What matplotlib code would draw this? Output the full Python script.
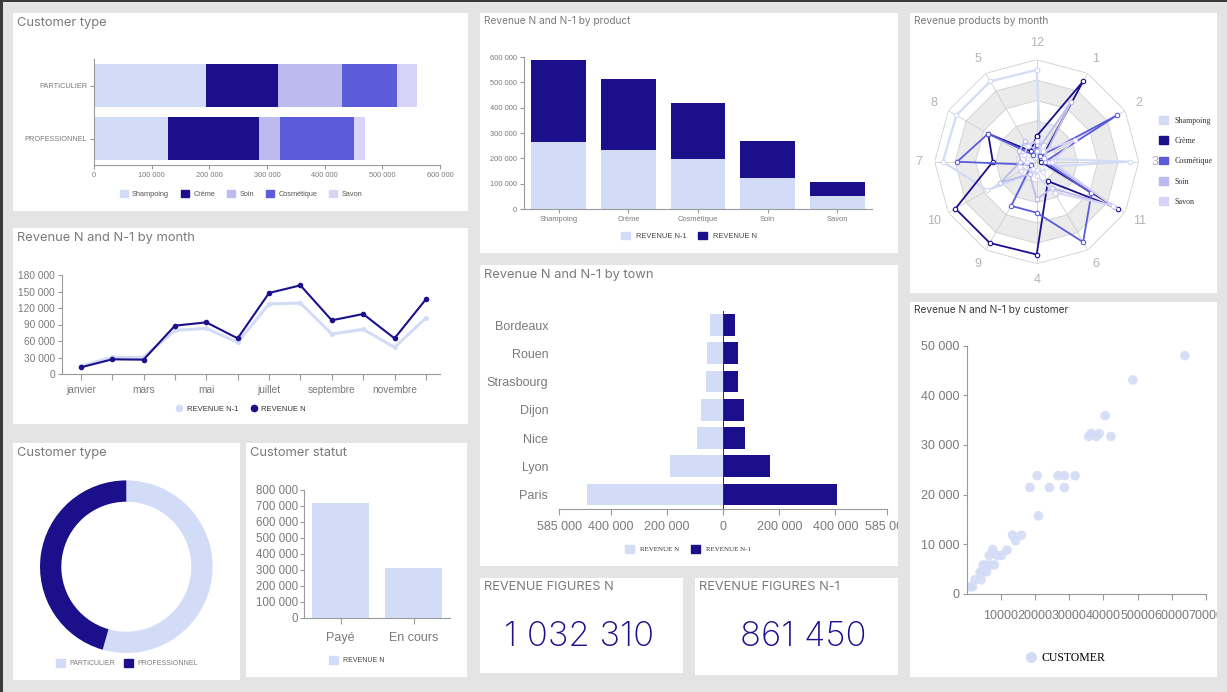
import numpy as np
import matplotlib
matplotlib.use('Agg')
import matplotlib.pyplot as plt
from matplotlib.patches import Rectangle, Patch
from matplotlib.lines import Line2D
from matplotlib.ticker import FuncFormatter
from matplotlib.transforms import Bbox, TransformedBbox

W, H = 1227, 692

LIGHT = '#d3dcf7'
DARK = '#1b0f8b'
SOIN = '#bcbaee'
COSM = '#5c5bd9'
SAVON = '#d7d3f9'
TXT = '#7a7a7a'
AXIS = '#9a9a9a'

# --- data ---
customer_types = ['PARTICULIER', 'PROFESSIONNEL']
products = ['Shampoing', 'Crème', 'Soin', 'Cosmétique', 'Savon']
type_shampoing = [195000, 128400]
type_creme = [124000, 157400]
type_soin = [110500, 36500]
type_cosmetique = [95500, 128400]
type_savon = [35800, 19100]

product_names = ['Shampoing', 'Crème', 'Cosmétique', 'Soin', 'Savon']
product_rev_n1 = [263900, 231000, 195600, 123400, 49900]
product_rev_n = [323000, 283700, 224500, 145700, 56400]

months = ['janvier', 'février', 'mars', 'avril', 'mai', 'juin', 'juillet',
          'août', 'septembre', 'octobre', 'novembre', 'décembre']
month_rev_n1 = [14500, 30300, 30300, 79400, 83000, 57600, 127300, 129100, 72700, 81200, 48500, 101800]
month_rev_n = [12100, 26700, 26100, 87900, 93900, 64800, 147300, 161200, 97600, 109100, 64800, 135800]

radar_axes = ['12', '1', '2', '3', '11', '6', '4', '9', '10', '7', '8', '5']
radar_shampoing = [90, 8, 6, 91, 10, 12, 8, 14, 56, 92, 91, 91]
radar_creme = [25, 91, 5, 4, 92, 22, 91, 92, 92, 43, 55, 12]
radar_cosmetique = [16, 6, 91, 8, 62, 91, 50, 50, 6, 78, 55, 8]
radar_soin = [10, 68, 8, 12, 88, 30, 37, 14, 41, 16, 20, 23]
radar_savon = [20, 12, 43, 15, 86, 35, 14, 8, 18, 10, 14, 18]

towns = ['Paris', 'Lyon', 'Nice', 'Dijon', 'Strasbourg', 'Rouen', 'Bordeaux']
town_rev_n = [486300, 191400, 95100, 80900, 63000, 57100, 47600]
town_rev_n1 = [406600, 165300, 78500, 72500, 51100, 51100, 42800]

customer_x = [63800, 48600, 40500, 42200, 35700, 36400, 38000, 38800, 31700, 26700, 28600, 28600,
              24200, 20600, 18500, 21000, 16000, 13400, 14300, 11800, 10200, 9000, 7600, 6600,
              8100, 5800, 4800, 5800, 3900, 4200, 2400, 1700, 1000, 7100, 4600]
customer_y = [48000, 43100, 35900, 31700, 31700, 32300, 31700, 32300, 23800, 23800, 23800, 21400,
              21400, 23800, 21400, 15700, 11800, 11800, 10700, 8800, 7700, 7700, 8900, 7700,
              5800, 5800, 5800, 4400, 4300, 2800, 2800, 1400, 1400, 5800, 4400]

statut_labels = ['Payé', 'En cours']
statut_values = [720600, 312500]

kpi_n = '1 032 310'
kpi_n1 = '861 450'

plt.rcParams['font.family'] = ['Liberation Sans', 'DejaVu Sans']
TITLE_FONT = ['Inter', 'DejaVu Sans']
SERIF = ['Liberation Serif', 'DejaVu Serif']

fig = plt.figure(figsize=(W / 100, H / 100), dpi=100)
fig.patch.set_facecolor('#e4e4e4')


def px_axes(x0, y0, x1, y1, **kw):
    ax = fig.add_axes([x0 / W, 1 - y1 / H, (x1 - x0) / W, (y1 - y0) / H], **kw)
    ax.set_facecolor('none')
    return ax


def panel(x0, y0, x1, y1, color='white'):
    fig.patches.append(Rectangle((x0 / W, 1 - y1 / H), (x1 - x0) / W, (y1 - y0) / H,
                                 transform=fig.transFigure, facecolor=color,
                                 edgecolor='none', zorder=-5))


def ftext(x, y, s, **kw):
    return fig.text(x / W, 1 - y / H, s, **kw)


def fpos(x, y):
    return (x / W, 1 - y / H)


def spaced(v, pos=None):
    return f"{abs(int(round(v))):,}".replace(',', ' ')


def style(ax, size):
    for s in ['top', 'right']:
        ax.spines[s].set_visible(False)
    for s in ['left', 'bottom']:
        ax.spines[s].set_color(AXIS)
        ax.spines[s].set_linewidth(0.8)
    ax.tick_params(colors=AXIS, labelcolor=TXT, labelsize=size, length=3, width=0.8, pad=2)


def clip_right(lbl, x1):
    lbl.set_clip_on(True)
    lbl.set_clip_box(TransformedBbox(Bbox([[0, 0], [x1 / W, 1]]), fig.transFigure))


# screenshot borders
panel(0, 0, W, 1.5, '#3a3a3a')
panel(0, 0, 3, H, '#3a3a3a')

# panels
panel(13, 13, 468, 211)
panel(480, 13, 898, 253)
panel(910, 13, 1217, 293)
panel(13, 228, 468, 424)
panel(480, 265, 898, 566)
panel(910, 302, 1217, 677)
panel(13, 443, 240, 680)
panel(246, 443, 467, 677)
panel(480, 578, 683, 673)
panel(695, 578, 898, 675)

# titles
big, small = 9.3, 7.3
ftext(17, 23, 'Customer type', fontsize=big, color=TXT, va='center', family=TITLE_FONT)
ftext(484, 21, 'Revenue N and N-1 by product', fontsize=small, color=TXT, va='center', family=TITLE_FONT)
ftext(914, 21, 'Revenue products by month', fontsize=small, color=TXT, va='center', family=TITLE_FONT)
ftext(17, 238, 'Revenue N and N-1 by month', fontsize=big, color=TXT, va='center', family=TITLE_FONT)
ftext(484, 275, 'Revenue N and N-1 by town', fontsize=big, color=TXT, va='center', family=TITLE_FONT)
ftext(914, 310, 'Revenue N and N-1 by customer', fontsize=small, color='#3a3a3a', va='center', family=TITLE_FONT)
ftext(17, 453, 'Customer type', fontsize=big, color=TXT, va='center', family=TITLE_FONT)
ftext(250, 453, 'Customer statut', fontsize=big, color=TXT, va='center', family=TITLE_FONT)
ftext(484, 587, 'REVENUE FIGURES N', fontsize=9.2, color=TXT, va='center', family=TITLE_FONT)
ftext(699, 587, 'REVENUE FIGURES N-1', fontsize=9.2, color=TXT, va='center', family=TITLE_FONT)

# --- 1. customer type stacked bars ---
ax1 = px_axes(94, 59, 440, 165)
ypos = np.arange(len(customer_types))[::-1]
left = np.zeros(len(customer_types))
type_series = [type_shampoing, type_creme, type_soin, type_cosmetique, type_savon]
type_colors = [LIGHT, DARK, SOIN, COSM, SAVON]
for vals, col in zip(type_series, type_colors):
    ax1.barh(ypos, vals, left=left, height=0.8, color=col)
    left += np.array(vals)
ax1.set_xlim(0, 600000)
ax1.set_ylim(-0.5, 1.5)
ax1.set_yticks(ypos, customer_types)
ax1.set_xticks(np.arange(0, 600001, 100000))
ax1.xaxis.set_major_formatter(FuncFormatter(spaced))
style(ax1, 5.3)
fig.legend([Patch(color=c) for c in type_colors], products, loc='center',
           bbox_to_anchor=fpos(241, 194), ncol=5, frameon=False, fontsize=5.3,
           handlelength=1.1, handleheight=1.1, columnspacing=1.6, handletextpad=0.6,
           labelcolor='#555555')

# --- 2. revenue by product ---
ax2 = px_axes(524, 57, 872, 209)
xp = np.arange(len(product_names))
ax2.bar(xp, product_rev_n1, width=0.79, color=LIGHT)
ax2.bar(xp, product_rev_n, width=0.79, bottom=product_rev_n1, color=DARK)
ax2.set_xlim(-0.5, len(product_names) - 0.5)
ax2.set_ylim(0, 600000)
ax2.set_yticks(np.arange(0, 600001, 100000))
ax2.yaxis.set_major_formatter(FuncFormatter(spaced))
ax2.set_xticks(xp, product_names)
style(ax2, 5.4)
fig.legend([Patch(color=LIGHT), Patch(color=DARK)], ['REVENUE N-1', 'REVENUE N'], loc='center',
           bbox_to_anchor=fpos(689, 236), ncol=2, frameon=False, fontsize=5.4,
           handlelength=1.1, handleheight=1.1, columnspacing=1.6, handletextpad=0.8,
           labelcolor='#444444')

# --- 3. radar ---
cx, cy, R = 1036.7, 161.7, 102
ax3 = px_axes(cx - R, cy - R, cx + R, cy + R, projection='polar')
ax3.set_theta_zero_location('N')
ax3.set_theta_direction(-1)
ang = np.arange(len(radar_axes)) * 2 * np.pi / len(radar_axes)
closed = np.append(ang, ang[0])
for i, r in enumerate([100, 80, 60, 40, 20]):
    ax3.fill(closed, [r] * len(closed), color='#ffffff' if i % 2 == 0 else '#ebebeb', zorder=0, lw=0)
    ax3.plot(closed, [r] * len(closed), color='#cfcfcf', lw=0.6, zorder=1)
for a in ang:
    ax3.plot([a, a], [0, 100], color='#cfcfcf', lw=0.6, zorder=1)
for a, lab in zip(ang, radar_axes):
    ax3.text(a, 116, lab, ha='center', va='center', fontsize=9, color='#b3b3b3')
radar_series = [radar_shampoing, radar_creme, radar_cosmetique, radar_soin, radar_savon]
radar_colors = [LIGHT, DARK, COSM, SOIN, SAVON]
radar_names = ['Shampoing', 'Crème', 'Cosmétique', 'Soin', 'Savon']
for vals, col in zip(radar_series, radar_colors):
    ax3.plot(closed, vals + vals[:1], color=col, lw=1.6 if col == LIGHT else 1.3,
             marker='o', ms=3.2, mfc='white', mec=col, mew=0.8, zorder=3)
ax3.set_ylim(0, 100)
ax3.grid(False)
ax3.spines['polar'].set_visible(False)
ax3.set_xticks([])
ax3.set_yticks([])
fig.legend([Patch(color=c) for c in radar_colors], radar_names, loc='center left',
           bbox_to_anchor=fpos(1152, 161), ncol=1, frameon=False, prop={'family': SERIF, 'size': 5.8},
           handlelength=1.1, handleheight=1.1, labelspacing=1.45, handletextpad=0.8,
           labelcolor='#333333')

# --- 4. revenue by month ---
ax4 = px_axes(62, 275, 440, 374)
xm = np.arange(len(months))
ax4.plot(xm, month_rev_n1, color=LIGHT, lw=2.2, marker='o', ms=2.6)
ax4.plot(xm, month_rev_n, color=DARK, lw=1.5, marker='o', ms=3)
ax4.set_xlim(-0.6, 11.45)
ax4.set_ylim(0, 180000)
ax4.set_yticks(np.arange(0, 180001, 30000))
ax4.yaxis.set_major_formatter(FuncFormatter(spaced))
ax4.set_xticks(xm, [m if i % 2 == 0 else '' for i, m in enumerate(months)])
style(ax4, 7.3)
ax4.tick_params(axis='x', length=4, pad=4)
fig.legend([Line2D([], [], ls='', marker='o', ms=4.5, color=LIGHT),
            Line2D([], [], ls='', marker='o', ms=4.5, color=DARK)],
           ['REVENUE N-1', 'REVENUE N'], loc='center', bbox_to_anchor=fpos(241, 409), ncol=2,
           frameon=False, fontsize=5.5, handlelength=0.8, columnspacing=1.6, handletextpad=0.6,
           labelcolor='#333333')

# --- 5. revenue by town ---
ax5 = px_axes(559.3, 311, 887.3, 508.7)
yt = np.arange(len(towns))
ax5.barh(yt, -np.array(town_rev_n), height=0.77, color=LIGHT)
ax5.barh(yt, town_rev_n1, height=0.77, color=DARK)
ax5.axvline(0, color='#333333', lw=0.7)
ax5.set_xlim(-585000, 585000)
ax5.set_ylim(-0.5, len(towns) - 0.5)
ax5.set_xticks([-585000, -400000, -200000, 0, 200000, 400000, 585000])
ax5.xaxis.set_major_formatter(FuncFormatter(spaced))
ax5.set_yticks(yt, towns)
style(ax5, 9)
ax5.spines['left'].set_visible(False)
ax5.tick_params(axis='y', length=0, pad=8)
ax5.tick_params(axis='x', length=4, pad=5)
clip_right(ax5.get_xticklabels()[-1], 898)
fig.legend([Patch(color=LIGHT), Patch(color=DARK)], ['REVENUE N', 'REVENUE N-1'], loc='center',
           bbox_to_anchor=fpos(688, 549), ncol=2, frameon=False, prop={'family': SERIF, 'size': 5},
           handlelength=1.3, handleheight=1.3, columnspacing=1.8, handletextpad=0.8,
           labelcolor='#333333')

# --- 6. customers scatter ---
ax6 = px_axes(966.7, 345.7, 1206, 593.7)
ax6.scatter(customer_x, customer_y, s=48, color=LIGHT, edgecolors='none', alpha=0.9)
ax6.set_xlim(0, 70000)
ax6.set_ylim(0, 50000)
ax6.set_yticks(np.arange(0, 50001, 10000))
ax6.yaxis.set_major_formatter(FuncFormatter(spaced))
ax6.set_xticks(np.arange(10000, 70001, 10000))
ax6.xaxis.set_major_formatter(FuncFormatter(lambda v, p: f"{int(v)}"))
style(ax6, 9)
ax6.tick_params(axis='x', length=4, pad=8)
clip_right(ax6.get_xticklabels()[-1], 1217)
fig.legend([Line2D([], [], ls='', marker='o', ms=7, color=LIGHT)], ['CUSTOMER'], loc='center',
           bbox_to_anchor=fpos(1066, 658), frameon=False, prop={'family': SERIF, 'size': 8.5},
           handlelength=0.8, handletextpad=0.5, labelcolor='black')

# --- 7. donut ---
dcx, dcy, dr = 126.3, 566.7, 86.3
ax7 = px_axes(dcx - dr, dcy - dr, dcx + dr, dcy + dr)
segment_values = [sum(v[0] for v in type_series), sum(v[1] for v in type_series)]
ax7.pie(segment_values, colors=[LIGHT, DARK], startangle=90, counterclock=False, radius=1,
        wedgeprops={'width': 0.247, 'edgecolor': 'none'})
ax7.set_xlim(-1, 1)
ax7.set_ylim(-1, 1)
ax7.set_aspect('equal')
fig.legend([Patch(color=LIGHT), Patch(color=DARK)], customer_types, loc='center',
           bbox_to_anchor=fpos(127, 663), ncol=2, frameon=False, fontsize=5,
           handlelength=1.3, handleheight=1.3, columnspacing=1.2, handletextpad=0.6,
           labelcolor=TXT)

# --- 8. customer statut ---
ax8 = px_axes(304, 490, 450, 618)
xs = np.arange(len(statut_labels))
ax8.bar(xs, statut_values, width=0.78, color=LIGHT)
ax8.set_xlim(-0.5, 1.5)
ax8.set_ylim(0, 800000)
ax8.set_yticks(np.arange(0, 800001, 100000))
ax8.yaxis.set_major_formatter(FuncFormatter(spaced))
ax8.set_xticks(xs, statut_labels)
style(ax8, 8.3)
ax8.tick_params(axis='y', pad=1)
ax8.tick_params(axis='x', labelsize=9, length=4, pad=6)
fig.legend([Patch(color=LIGHT)], ['REVENUE N'], loc='center', bbox_to_anchor=fpos(357, 660),
           frameon=False, fontsize=5, handlelength=1.3, handleheight=1.3, handletextpad=0.7,
           labelcolor='#444444')

# --- 9. KPIs ---
ftext(579, 637, kpi_n, fontsize=25, color=DARK, ha='center', va='center',
      family=TITLE_FONT, fontweight='light')
ftext(803, 637, kpi_n1, fontsize=25, color=DARK, ha='center', va='center',
      family=TITLE_FONT, fontweight='light')

fig.savefig('out.png', dpi=100, facecolor=fig.get_facecolor())
